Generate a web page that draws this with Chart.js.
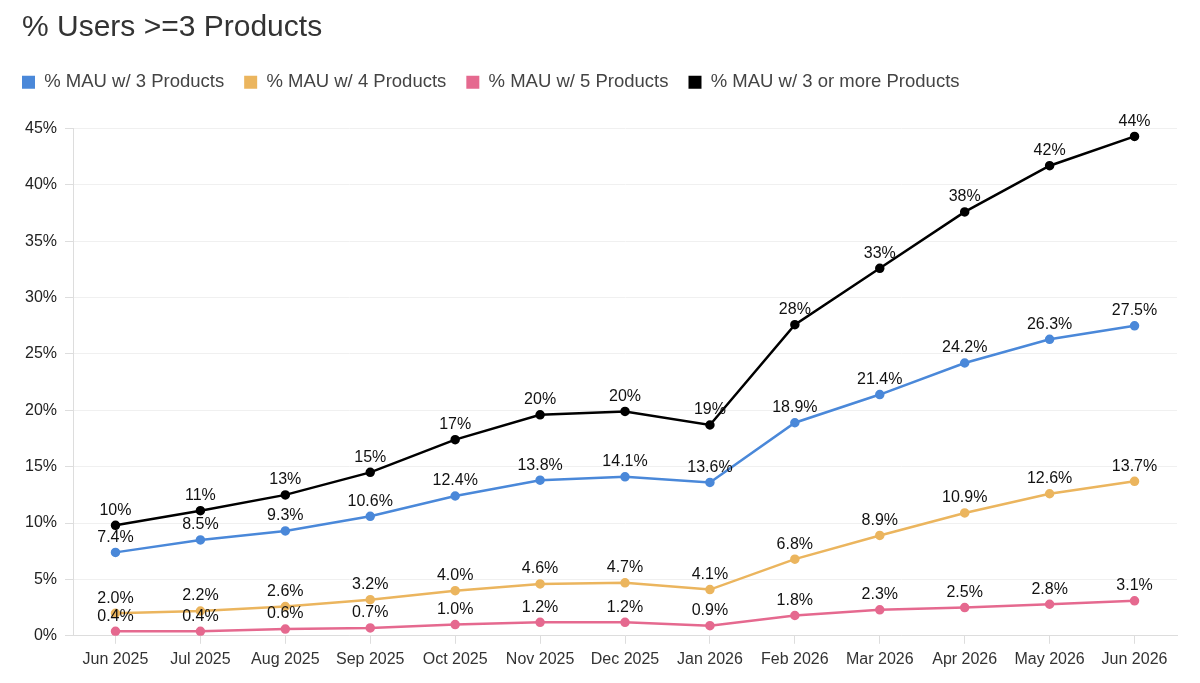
<!DOCTYPE html>
<html>
<head>
<meta charset="utf-8">
<title>% Users >=3 Products</title>
<script src="https://cdn.jsdelivr.net/npm/chart.js@4.4.1/dist/chart.umd.min.js"></script>
<style>
  body { margin: 0; background: #fff; }
  #wrap { width: 1200px; height: 683px; position: relative; }
</style>
</head>
<body>
<div id="wrap"><canvas id="grafica"></canvas></div>
<script>
// Datos
const meses = ["Jun 2025", "Jul 2025", "Aug 2025", "Sep 2025", "Oct 2025", "Nov 2025", "Dec 2025",
               "Jan 2026", "Feb 2026", "Mar 2026", "Apr 2026", "May 2026", "Jun 2026"];

const mau3 = [7.4, 8.5, 9.3, 10.6, 12.4, 13.8, 14.1, 13.6, 18.9, 21.4, 24.2, 26.3, 27.5];
const mau4 = [2.0, 2.2, 2.6, 3.2, 4.0, 4.6, 4.7, 4.1, 6.8, 8.9, 10.9, 12.6, 13.7];
const mau5 = [0.4, 0.4, 0.6, 0.7, 1.0, 1.2, 1.2, 0.9, 1.8, 2.3, 2.5, 2.8, 3.1];
const mau3oMas = [9.8, 11.1, 12.5, 14.5, 17.4, 19.6, 19.9, 18.7, 27.6, 32.6, 37.6, 41.7, 44.3];

const ticksY = [0, 5, 10, 15, 20, 25, 30, 35, 40, 45];

const fuente = "Helvetica, Arial, 'Liberation Sans', sans-serif";

// Etiquetas encima de cada punto
const etiquetasPuntos = {
    id: 'etiquetasPuntos',
    afterDatasetsDraw(chart) {
        const ctx = chart.ctx;
        ctx.save();
        ctx.font = "16px " + fuente;
        ctx.fillStyle = "#111";
        ctx.textAlign = "center";
        ctx.textBaseline = "bottom";
        chart.data.datasets.forEach((ds, i) => {
            const meta = chart.getDatasetMeta(i);
            meta.data.forEach((pt, j) => {
                const txt = ds.data[j].toFixed(ds.decimales) + "%";
                ctx.fillText(txt, pt.x, pt.y - 7);
            });
        });
        ctx.restore();
    }
};

// Ajuste de título y leyenda: pegados a la izquierda y con espacio extra debajo
const ajusteLeyenda = {
    id: 'ajusteLeyenda',
    beforeInit(chart) {
        const fitOriginal = chart.legend.fit;
        chart.legend.fit = function fit() {
            fitOriginal.bind(chart.legend)();
            this.height += 27;
        };
    },
    afterLayout(chart) {
        chart.legend.left -= 15;
        chart.legend.right -= 15;
        chart.titleBlock.left += 5;
        chart.titleBlock.right += 5;
    }
};

function serie(label, data, color, decimales) {
    return {
        label: label,
        data: data,
        borderColor: color,
        backgroundColor: color,
        pointBackgroundColor: color,
        pointBorderColor: color,
        borderWidth: 2.5,
        pointRadius: 3.5,
        tension: 0,
        decimales: decimales
    };
}

const ctx = document.getElementById('grafica').getContext('2d');
const chart = new Chart(ctx, {
    type: 'line',
    data: {
        labels: meses,
        datasets: [
            serie('% MAU w/ 3 Products', mau3, '#4a88d9', 1),
            serie('% MAU w/ 4 Products', mau4, '#ebb55e', 1),
            serie('% MAU w/ 5 Products', mau5, '#e5698f', 1),
            serie('% MAU w/ 3 or more Products', mau3oMas, '#000000', 0)
        ]
    },
    options: {
        responsive: true,
        maintainAspectRatio: false,
        animation: false,
        layout: { padding: { left: 17, right: 23, top: 8, bottom: 8 } },
        scales: {
            x: {
                offset: true,
                grid: { drawOnChartArea: false, drawTicks: true, tickLength: 8, color: '#ddd' },
                border: { color: '#ddd' },
                ticks: { color: '#333', font: { size: 16, family: fuente }, padding: 6, maxRotation: 0 }
            },
            y: {
                min: 0,
                max: 45,
                afterBuildTicks: (axis) => { axis.ticks = ticksY.map(v => ({ value: v })); },
                grid: { color: '#f0f0f0', tickLength: 8, tickColor: '#ddd' },
                border: { color: '#ddd' },
                ticks: {
                    color: '#222',
                    font: { size: 16, family: fuente },
                    padding: 8,
                    callback: (v) => v + '%'
                }
            }
        },
        plugins: {
            title: {
                display: true,
                text: '% Users >=3 Products',
                align: 'start',
                color: '#333',
                font: { size: 30, family: fuente, weight: 'normal' },
                padding: { top: 2, bottom: 7 }
            },
            legend: {
                align: 'start',
                labels: {
                    boxWidth: 13,
                    boxHeight: 13,
                    color: '#444',
                    font: { size: 18.5, family: fuente },
                    padding: 20,
                    generateLabels: (c) => c.data.datasets.map((ds, i) => ({
                        text: ds.label,
                        fillStyle: ds.borderColor,
                        strokeStyle: ds.borderColor,
                        lineWidth: 0,
                        datasetIndex: i,
                        fontColor: '#444'
                    }))
                }
            },
            tooltip: { enabled: false }
        }
    },
    plugins: [etiquetasPuntos, ajusteLeyenda]
});
</script>
</body>
</html>
